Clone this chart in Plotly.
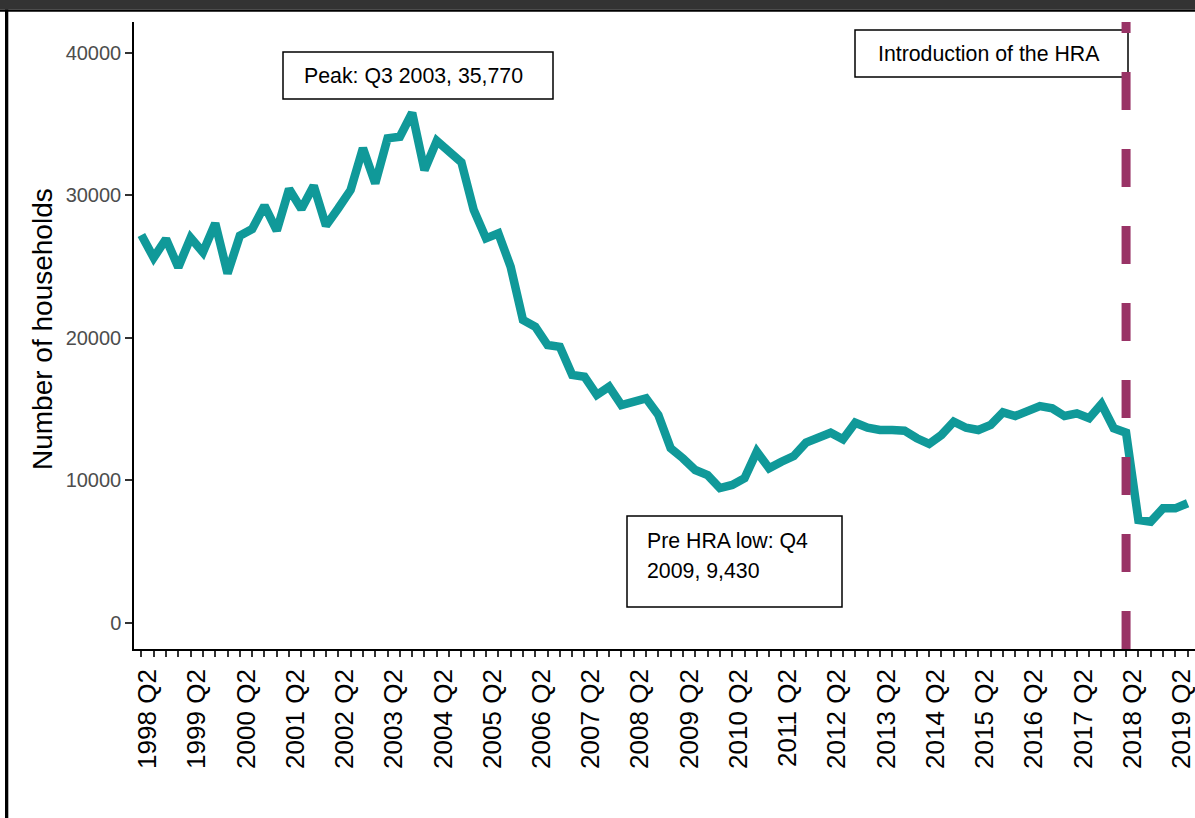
import plotly.graph_objects as go

# quarterly series, 1998 Q1 to 2019 Q2
years = list(range(1998, 2020))
quarters = [f"{y} Q{q}" for y in years for q in (1, 2, 3, 4)][:86]

households = [
    27190, 25600, 26910, 24930, 27000, 25980, 28010, 24500,
    27140, 27610, 29250, 27500, 30420, 29020, 30650, 27850,
    29070, 30350, 33280, 30820, 33980, 34090, 35770, 31750,
    33800, 33040, 32300, 28950, 26960, 27310, 24970, 21230,
    20760, 19470, 19350, 17370, 17250, 15970, 16550, 15260,
    15500, 15730, 14560, 12230, 11520, 10700, 10350, 9430,
    9650, 10120, 11990, 10820, 11280, 11680, 12620, 13040,
    13320, 12860, 14020, 13670, 13510, 13510, 13460, 12930,
    12530, 13160, 14090, 13670, 13510, 13860, 14750, 14490,
    14870, 15190, 15030, 14490, 14680, 14330, 15330, 13630,
    13320, 7190, 7070, 8010, 8010, 8370,
]

tick_text = [q if q.endswith("Q2") else "" for q in quarters]
y_ticks = [0, 10000, 20000, 30000, 40000]
HRA_QUARTER = "2018 Q1"

TEAL = "#109999"
PLUM = "#993366"
FONT = "Liberation Sans, Arial, sans-serif"

W, H = 1195, 818
L, R, T, B = 134, 0, 22, 169


def px(x):
    return (x - L) / (W - L - R)


def py(y):
    return (H - B - y) / (H - T - B)


def box(x0, y0, x1, y1, fill="white", line_w=1.5):
    return dict(type="rect", xref="paper", yref="paper",
                x0=px(x0), x1=px(x1), y0=py(y1), y1=py(y0),
                fillcolor=fill, line=dict(color="black", width=line_w),
                layer="above")


def label(text, x, y):
    return dict(text=text, xref="paper", yref="paper", x=px(x), y=py(y),
                xanchor="left", yanchor="middle", showarrow=False,
                font=dict(family=FONT, size=21.3, color="black"))


fig = go.Figure()
fig.add_trace(go.Scatter(
    x=quarters, y=households, mode="lines",
    line=dict(color=TEAL, width=8.5), hoverinfo="skip",
))

shapes = [
    # page frame
    dict(type="rect", xref="paper", yref="paper", x0=px(0), x1=px(W),
         y0=py(9.5), y1=py(0), fillcolor="#333333", line=dict(width=0)),
    dict(type="rect", xref="paper", yref="paper", x0=px(0), x1=px(W),
         y0=py(11.7), y1=py(9.5), fillcolor="black", line=dict(width=0)),
    dict(type="rect", xref="paper", yref="paper", x0=px(5), x1=px(8.3),
         y0=py(H), y1=py(9.5), fillcolor="black", line=dict(width=0)),
    # label boxes
    box(283, 52, 553, 99),
    box(855, 30, 1128, 77),
    box(627, 516, 842, 607),
    # HRA line
    dict(type="line", xref="x", yref="paper", x0=HRA_QUARTER, x1=HRA_QUARTER,
         y0=0, y1=1, line=dict(color=PLUM, width=9, dash="38px,39px"),
         layer="above"),
]

annotations = [
    label("Peak: Q3 2003, 35,770", 302, 76),
    label("Introduction of the HRA", 876, 54),
    label("Pre HRA low: Q4", 645, 541),
    label("2009, 9,430", 645, 571),
    dict(text="Number of households", xref="paper", yref="paper",
         x=px(42), y=py(329), textangle=-90, showarrow=False,
         xanchor="center", yanchor="middle",
         font=dict(family=FONT, size=28, color="black")),
]

fig.update_layout(
    width=W, height=H,
    margin=dict(l=L, r=R, t=T, b=B, pad=0),
    paper_bgcolor="white", plot_bgcolor="white",
    showlegend=False,
    font=dict(family=FONT),
    shapes=shapes,
    annotations=annotations,
    xaxis=dict(
        type="category", range=[-0.6, 85.6],
        tickmode="array", tickvals=quarters, ticktext=tick_text,
        tickangle=-90, ticks="outside", ticklen=6, tickwidth=1.5,
        tickcolor="#333333", ticklabelshift=-6, ticklabelstandoff=2,
        tickfont=dict(family=FONT, size=26, color="black"),
        showline=True, linecolor="black", linewidth=1.5,
        showgrid=False, zeroline=False,
    ),
    yaxis=dict(
        range=[-1860, 42140], tickmode="array", tickvals=y_ticks,
        tickformat="d", ticks="outside", ticklen=7, tickwidth=1.5,
        tickcolor="#333333",
        tickfont=dict(family=FONT, size=20, color="#4D4D4D"),
        showline=True, linecolor="black", linewidth=1.5,
        showgrid=False, zeroline=False,
    ),
)

fig.write_html("out.html", config={"displayModeBar": False},
               post_script="document.body.style.margin='0';")
